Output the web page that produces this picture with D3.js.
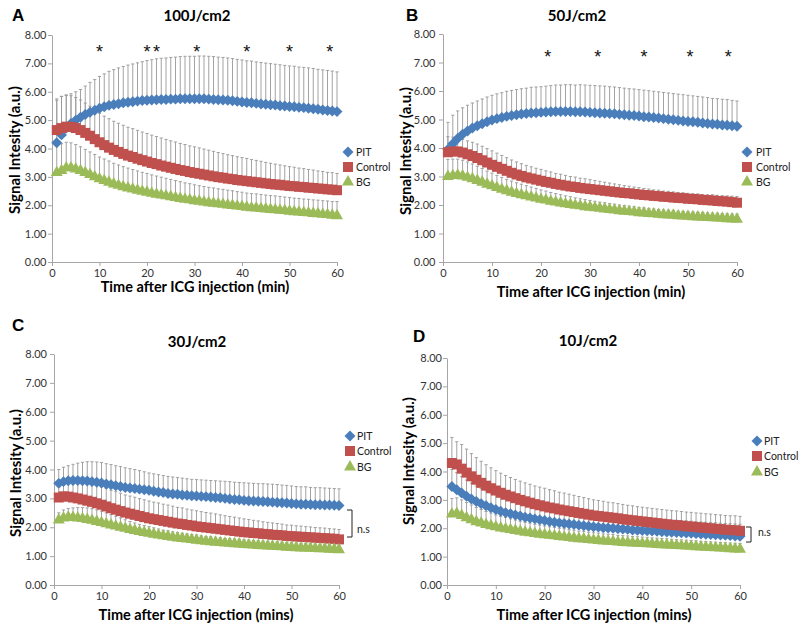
<!DOCTYPE html>
<html><head><meta charset="utf-8">
<script src="https://cdn.jsdelivr.net/npm/d3@7"></script>
<style>
body{margin:0;background:#fff;}
svg{display:block;}
</style></head><body>
<svg id="chart" width="800" height="630"></svg>
<script>
// ---------- DATA ----------
const minutes = [1,2,3,4,5,6,7,8,9,10,11,12,13,14,15,16,17,18,19,20,21,22,23,24,25,26,27,28,29,30,
  31,32,33,34,35,36,37,38,39,40,41,42,43,44,45,46,47,48,49,50,51,52,53,54,55,56,57,58,59,60];
const xTicks = [0,10,20,30,40,50,60];
const yTicks = [0,1,2,3,4,5,6,7,8];
const seriesNames = ["PIT","Control","BG"];
const panelLetters = ["A","B","C","D"];
const panelTitles = ["100J/cm2","50J/cm2","30J/cm2","10J/cm2"];
const xTitles = ["Time after ICG injection (min)","Time after ICG injection (min)",
  "Time after ICG injection (mins)","Time after ICG injection (mins)"];
const yTitle = "Signal Intesity (a.u.)";

// Panel A (100J/cm2)
const aPIT = [4.20,4.48,4.72,4.88,5.00,5.10,5.20,5.28,5.35,5.42,
  5.47,5.52,5.55,5.58,5.61,5.63,5.65,5.67,5.69,5.70,
  5.71,5.72,5.73,5.73,5.74,5.74,5.75,5.75,5.75,5.75,
  5.75,5.75,5.74,5.73,5.72,5.71,5.70,5.68,5.66,5.64,
  5.62,5.61,5.59,5.57,5.56,5.54,5.53,5.51,5.50,5.48,
  5.47,5.45,5.44,5.42,5.40,5.38,5.36,5.34,5.32,5.30];
const aPITsd = [1.50,1.35,1.15,1.05,1.00,0.98,1.00,1.05,1.08,1.12,
  1.16,1.20,1.23,1.26,1.28,1.31,1.33,1.35,1.37,1.40,
  1.42,1.44,1.45,1.46,1.47,1.48,1.49,1.50,1.50,1.50,
  1.51,1.51,1.51,1.51,1.50,1.50,1.49,1.49,1.48,1.48,
  1.47,1.47,1.46,1.46,1.45,1.45,1.44,1.44,1.43,1.43,
  1.43,1.42,1.42,1.42,1.42,1.41,1.41,1.41,1.41,1.40];
const aControl = [4.65,4.72,4.77,4.76,4.72,4.65,4.55,4.45,4.33,4.22,
  4.12,4.03,3.95,3.88,3.81,3.75,3.70,3.64,3.59,3.54,
  3.49,3.45,3.40,3.36,3.32,3.28,3.24,3.21,3.17,3.14,
  3.11,3.08,3.05,3.02,2.99,2.97,2.94,2.92,2.89,2.87,
  2.85,2.83,2.81,2.79,2.77,2.75,2.73,2.72,2.70,2.68,
  2.67,2.65,2.64,2.62,2.61,2.59,2.58,2.56,2.55,2.53];
const aControlSd = [1.10,1.12,1.12,1.10,1.08,1.06,1.05,1.04,1.03,1.02,
  1.02,1.02,1.01,1.01,1.01,1.00,1.00,1.00,0.99,0.99,
  0.98,0.97,0.97,0.96,0.95,0.95,0.94,0.93,0.92,0.92,
  0.91,0.90,0.89,0.88,0.87,0.85,0.84,0.83,0.82,0.81,
  0.80,0.78,0.77,0.76,0.74,0.73,0.72,0.70,0.69,0.68,
  0.67,0.66,0.65,0.64,0.63,0.62,0.61,0.60,0.60,0.59];
const aBG = [3.15,3.22,3.32,3.32,3.28,3.22,3.15,3.08,3.00,2.93,
  2.87,2.81,2.75,2.70,2.65,2.61,2.57,2.53,2.49,2.46,
  2.42,2.39,2.36,2.33,2.30,2.27,2.24,2.21,2.19,2.16,
  2.14,2.11,2.09,2.07,2.05,2.03,2.01,1.99,1.97,1.95,
  1.93,1.91,1.90,1.88,1.87,1.85,1.84,1.82,1.81,1.79,
  1.77,1.76,1.74,1.73,1.71,1.70,1.68,1.67,1.65,1.63];
const aBGsd = [0.95,0.95,0.90,0.88,0.86,0.84,0.82,0.80,0.79,0.77,
  0.76,0.75,0.73,0.72,0.71,0.70,0.69,0.68,0.67,0.66,
  0.65,0.64,0.63,0.62,0.61,0.60,0.59,0.58,0.57,0.56,
  0.55,0.55,0.54,0.54,0.53,0.53,0.52,0.52,0.51,0.51,
  0.50,0.50,0.50,0.50,0.49,0.49,0.49,0.49,0.48,0.48,
  0.48,0.48,0.48,0.48,0.48,0.48,0.48,0.48,0.48,0.50];
const aStars = [10,20,22,30.5,41,50,58.5];

// Panel B (50J/cm2)
const bPIT = [3.95,4.15,4.33,4.48,4.60,4.70,4.78,4.85,4.92,4.98,
  5.03,5.07,5.11,5.14,5.17,5.19,5.21,5.23,5.24,5.25,
  5.26,5.27,5.28,5.28,5.28,5.28,5.27,5.27,5.26,5.25,
  5.24,5.23,5.22,5.21,5.20,5.18,5.17,5.15,5.14,5.12,
  5.10,5.09,5.07,5.05,5.03,5.01,4.99,4.97,4.95,4.93,
  4.92,4.90,4.88,4.86,4.84,4.83,4.81,4.80,4.78,4.76];
const bPITsd = [0.95,1.00,0.97,0.93,0.90,0.88,0.87,0.87,0.87,0.87,
  0.87,0.87,0.88,0.88,0.88,0.89,0.89,0.90,0.90,0.90,
  0.91,0.92,0.93,0.93,0.94,0.94,0.94,0.95,0.95,0.95,
  0.95,0.95,0.95,0.94,0.94,0.94,0.93,0.93,0.93,0.93,
  0.93,0.92,0.92,0.92,0.92,0.92,0.92,0.92,0.92,0.92,
  0.91,0.91,0.91,0.91,0.90,0.90,0.90,0.90,0.89,0.89];
const bControl = [3.85,3.88,3.88,3.84,3.78,3.72,3.65,3.57,3.49,3.41,
  3.34,3.27,3.20,3.13,3.07,3.02,2.97,2.93,2.89,2.85,
  2.81,2.78,2.74,2.71,2.68,2.65,2.63,2.60,2.58,2.56,
  2.54,2.52,2.50,2.48,2.46,2.44,2.42,2.41,2.39,2.37,
  2.35,2.34,2.32,2.31,2.29,2.28,2.26,2.25,2.24,2.22,
  2.21,2.20,2.18,2.17,2.16,2.14,2.13,2.12,2.10,2.08];
const bControlSd = [0.55,0.50,0.45,0.46,0.47,0.48,0.49,0.49,0.49,0.49,
  0.48,0.47,0.46,0.45,0.44,0.43,0.42,0.41,0.40,0.40,
  0.39,0.38,0.37,0.37,0.36,0.35,0.35,0.34,0.34,0.33,
  0.32,0.31,0.30,0.29,0.28,0.27,0.26,0.25,0.24,0.24,
  0.23,0.22,0.21,0.21,0.20,0.20,0.20,0.19,0.19,0.19,
  0.19,0.19,0.19,0.19,0.20,0.20,0.20,0.20,0.21,0.22];
const bBG = [3.00,3.03,3.05,3.02,2.97,2.92,2.86,2.80,2.73,2.67,
  2.61,2.55,2.50,2.45,2.40,2.36,2.32,2.28,2.24,2.20,
  2.17,2.13,2.10,2.07,2.04,2.02,1.99,1.97,1.94,1.92,
  1.90,1.88,1.86,1.84,1.82,1.80,1.78,1.77,1.75,1.73,
  1.72,1.70,1.69,1.67,1.66,1.65,1.64,1.62,1.61,1.60,
  1.59,1.58,1.57,1.56,1.55,1.54,1.53,1.52,1.51,1.50];
const bBGsd = [0.60,0.58,0.56,0.55,0.54,0.52,0.50,0.48,0.46,0.45,
  0.43,0.42,0.40,0.39,0.38,0.37,0.36,0.35,0.34,0.33,
  0.32,0.31,0.30,0.29,0.28,0.27,0.26,0.25,0.25,0.24,
  0.23,0.22,0.22,0.21,0.21,0.20,0.20,0.19,0.19,0.18,
  0.18,0.18,0.17,0.17,0.17,0.16,0.16,0.16,0.16,0.16,
  0.16,0.16,0.16,0.16,0.16,0.17,0.17,0.17,0.17,0.18];
const bStars = [21.4,31.6,41,50.4,58.2];

// Panel C (30J/cm2)
const cPIT = [3.52,3.58,3.61,3.62,3.62,3.61,3.60,3.58,3.56,3.53,
  3.50,3.47,3.44,3.41,3.38,3.36,3.34,3.32,3.30,3.28,
  3.25,3.22,3.20,3.17,3.15,3.14,3.12,3.11,3.09,3.08,
  3.07,3.06,3.05,3.03,3.02,3.00,2.98,2.96,2.95,2.93,
  2.92,2.91,2.90,2.89,2.88,2.87,2.86,2.85,2.84,2.82,
  2.81,2.80,2.80,2.79,2.78,2.78,2.77,2.77,2.76,2.75];
const cPITsd = [0.48,0.50,0.52,0.56,0.60,0.64,0.67,0.69,0.70,0.71,
  0.70,0.70,0.69,0.69,0.68,0.67,0.66,0.64,0.62,0.60,
  0.60,0.60,0.59,0.59,0.59,0.58,0.58,0.57,0.57,0.57,
  0.57,0.57,0.57,0.58,0.58,0.59,0.60,0.60,0.60,0.61,
  0.61,0.61,0.61,0.62,0.62,0.62,0.62,0.61,0.61,0.61,
  0.60,0.60,0.60,0.59,0.59,0.59,0.59,0.58,0.58,0.58];
const cControl = [3.03,3.07,3.06,3.03,3.00,2.96,2.92,2.88,2.83,2.78,
  2.72,2.66,2.61,2.56,2.51,2.47,2.43,2.39,2.35,2.31,
  2.28,2.25,2.22,2.19,2.16,2.13,2.11,2.08,2.06,2.03,
  2.01,1.99,1.97,1.95,1.93,1.91,1.89,1.87,1.85,1.83,
  1.82,1.80,1.79,1.77,1.76,1.74,1.73,1.72,1.70,1.69,
  1.68,1.67,1.66,1.65,1.64,1.63,1.62,1.61,1.60,1.58];
const cControlSd = [0.50,0.52,0.54,0.56,0.58,0.60,0.61,0.62,0.62,0.62,
  0.62,0.62,0.62,0.62,0.61,0.61,0.61,0.60,0.60,0.60,
  0.59,0.59,0.58,0.58,0.57,0.56,0.56,0.55,0.54,0.54,
  0.53,0.52,0.52,0.51,0.50,0.49,0.48,0.48,0.47,0.46,
  0.45,0.44,0.43,0.42,0.41,0.41,0.40,0.39,0.38,0.38,
  0.37,0.37,0.36,0.36,0.35,0.35,0.35,0.34,0.34,0.34];
const cBG = [2.25,2.32,2.35,2.34,2.32,2.30,2.27,2.24,2.20,2.16,
  2.12,2.08,2.04,2.00,1.96,1.92,1.89,1.85,1.82,1.79,
  1.76,1.73,1.70,1.68,1.65,1.63,1.61,1.59,1.57,1.55,
  1.53,1.51,1.50,1.48,1.47,1.45,1.44,1.43,1.42,1.40,
  1.39,1.38,1.37,1.36,1.35,1.34,1.33,1.32,1.31,1.30,
  1.29,1.28,1.28,1.27,1.26,1.25,1.25,1.24,1.23,1.22];
const cBGsd = [0.25,0.28,0.30,0.33,0.36,0.38,0.40,0.40,0.40,0.40,
  0.38,0.36,0.34,0.32,0.30,0.28,0.26,0.25,0.24,0.23,
  0.22,0.21,0.20,0.20,0.19,0.19,0.18,0.18,0.18,0.18,
  0.17,0.17,0.17,0.17,0.17,0.16,0.16,0.16,0.16,0.16,
  0.16,0.16,0.16,0.16,0.16,0.16,0.16,0.16,0.16,0.16,
  0.16,0.16,0.16,0.16,0.16,0.16,0.16,0.16,0.16,0.16];

// Panel D (10J/cm2)
const dPIT = [3.47,3.36,3.24,3.13,3.03,2.94,2.86,2.79,2.72,2.66,
  2.60,2.55,2.51,2.47,2.43,2.39,2.36,2.33,2.30,2.27,
  2.24,2.21,2.19,2.17,2.15,2.13,2.11,2.09,2.07,2.05,
  2.04,2.02,2.01,2.00,1.98,1.97,1.96,1.94,1.93,1.92,
  1.91,1.90,1.89,1.88,1.87,1.86,1.85,1.84,1.83,1.82,
  1.81,1.80,1.79,1.78,1.77,1.76,1.75,1.74,1.73,1.72];
const dPITsd = [0.60,0.60,0.58,0.57,0.56,0.55,0.54,0.53,0.52,0.52,
  0.51,0.51,0.50,0.50,0.50,0.49,0.49,0.49,0.48,0.48,
  0.48,0.48,0.47,0.47,0.47,0.46,0.46,0.46,0.46,0.45,
  0.45,0.45,0.45,0.45,0.44,0.44,0.44,0.44,0.44,0.44,
  0.43,0.43,0.43,0.43,0.43,0.43,0.43,0.43,0.43,0.43,
  0.42,0.42,0.42,0.42,0.42,0.42,0.42,0.42,0.42,0.42];
const dControl = [4.30,4.25,4.10,3.96,3.83,3.71,3.60,3.50,3.41,3.33,
  3.25,3.18,3.12,3.06,3.00,2.95,2.90,2.85,2.81,2.77,
  2.73,2.70,2.66,2.63,2.60,2.57,2.54,2.51,2.48,2.45,
  2.43,2.41,2.39,2.37,2.35,2.32,2.30,2.28,2.26,2.24,
  2.22,2.20,2.18,2.16,2.14,2.12,2.11,2.09,2.07,2.06,
  2.04,2.03,2.01,2.00,1.98,1.97,1.95,1.94,1.93,1.91];
const dControlSd = [0.90,0.80,0.85,0.83,0.80,0.78,0.76,0.74,0.72,0.70,
  0.69,0.68,0.67,0.66,0.66,0.65,0.65,0.64,0.64,0.64,
  0.63,0.62,0.61,0.61,0.60,0.59,0.58,0.57,0.56,0.55,
  0.55,0.54,0.53,0.53,0.52,0.52,0.51,0.51,0.50,0.50,
  0.50,0.50,0.50,0.50,0.50,0.50,0.50,0.50,0.50,0.50,
  0.50,0.50,0.50,0.50,0.50,0.50,0.50,0.50,0.51,0.51];
const dBG = [2.50,2.52,2.45,2.37,2.30,2.23,2.18,2.13,2.09,2.05,
  2.01,1.98,1.95,1.92,1.89,1.86,1.84,1.81,1.79,1.77,
  1.75,1.73,1.71,1.69,1.67,1.65,1.63,1.62,1.60,1.58,
  1.57,1.55,1.54,1.53,1.51,1.50,1.49,1.48,1.47,1.46,
  1.45,1.44,1.43,1.42,1.41,1.40,1.39,1.38,1.37,1.36,
  1.35,1.34,1.33,1.32,1.31,1.30,1.29,1.28,1.27,1.26];
const dBGsd = [0.55,0.55,0.55,0.54,0.52,0.50,0.48,0.46,0.44,0.42,
  0.41,0.40,0.38,0.37,0.36,0.35,0.34,0.33,0.32,0.31,
  0.30,0.30,0.29,0.29,0.28,0.28,0.27,0.27,0.26,0.26,
  0.26,0.25,0.25,0.25,0.24,0.24,0.24,0.23,0.23,0.23,
  0.23,0.22,0.22,0.22,0.22,0.21,0.21,0.21,0.21,0.21,
  0.21,0.20,0.20,0.20,0.20,0.20,0.20,0.20,0.20,0.20];

const nsLabel = "n.s";
const starLabel = "*";

// ---------- LAYOUT / STYLE ----------
const colors = ["#4a7ebb","#c0504d","#9bbb59"];
const panels = [
  {means:[aPIT,aControl,aBG], sds:[aPITsd,aControlSd,aBGsd], stars:aStars, starV:7.55,
   x0:52, x1:337, yb:262, yt:35, pad:1.5, letter:[12,21], title:[197,21], xTitle:[195,292], yTitle:[20,150],
   leg:{mx:348, tx:356, ys:[152,167,182]}, ns:null},
  {means:[bPIT,bControl,bBG], sds:[bPITsd,bControlSd,bBGsd], stars:bStars, starV:7.35,
   x0:443, x1:737, yb:262, yt:34, pad:3.5, letter:[406,21], title:[577,21], xTitle:[591,297], yTitle:[411,151],
   leg:{mx:747, tx:756, ys:[152,167,182]}, ns:null},
  {means:[cPIT,cControl,cBG], sds:[cPITsd,cControlSd,cBGsd], stars:[], starV:0,
   x0:54, x1:339, yb:585, yt:354, pad:3, letter:[12,331], title:[197,347], xTitle:[196,620], yTitle:[21,473],
   leg:{mx:350, tx:357, ys:[436,451,467]}, ns:{x:352, y1:510, y2:537, tx:357, ty:533}},
  {means:[dPIT,dControl,dBG], sds:[dPITsd,dControlSd,dBGsd], stars:[], starV:0,
   x0:447, x1:740, yb:585, yt:358, pad:1, letter:[413,342], title:[588,346], xTitle:[594,620], yTitle:[414,461],
   leg:{mx:757, tx:764, ys:[441,456,472]}, ns:{x:751, y1:527, y2:542, tx:758, ty:536}}
];

const symPIT = d3.symbol(d3.symbolSquare, 60)();
const symCtl = d3.symbol(d3.symbolSquare, 100)();
const symBG = d3.symbol(d3.symbolTriangle, 62)();
const symbols = [symPIT, symCtl, symBG];
const rot = [45, 0, 0];

const svg = d3.select("#chart");
const axisColor = "#a6a6a6";
const fontMain = "Lato, 'Open Sans', sans-serif";

panels.forEach((p, i) => {
  const g = svg.append("g");
  const x = d3.scaleLinear().domain([0, 60]).range([p.x0, p.x1]);
  const y = d3.scaleLinear().domain([0, 8]).range([p.yb, p.yt]);

  // axes
  const ya = g.append("g").attr("transform", `translate(${p.x0},0)`)
    .call(d3.axisLeft(y).tickValues(yTicks).tickFormat(d3.format(".2f")).tickSize(4).tickSizeOuter(0).tickPadding(p.pad));
  const xa = g.append("g").attr("transform", `translate(0,${p.yb})`)
    .call(d3.axisBottom(x).tickValues(xTicks).tickSize(4).tickSizeOuter(0).tickPadding(3));
  [ya, xa].forEach(a => {
    a.select(".domain").attr("stroke", axisColor);
    a.selectAll(".tick line").attr("stroke", axisColor);
    a.selectAll(".tick text").attr("fill", "#333").style("font-family", fontMain).style("font-size", "11px");
  });

  // error bars (upward only)
  p.means.forEach((m, s) => {
    const sd = p.sds[s];
    const eb = g.append("g").attr("stroke", "#999").attr("stroke-width", 0.9).attr("fill", "none");
    minutes.forEach((t, k) => {
      const xx = x(t), y1 = y(m[k]), y2 = y(m[k] + sd[k]);
      eb.append("line").attr("x1", xx).attr("x2", xx).attr("y1", y1).attr("y2", y2);
      eb.append("line").attr("x1", xx - 1.6).attr("x2", xx + 1.6).attr("y1", y2).attr("y2", y2);
    });
  });

  // markers
  p.means.forEach((m, s) => {
    g.append("g").selectAll("path").data(minutes).join("path")
      .attr("d", symbols[s])
      .attr("fill", colors[s])
      .attr("transform", (t, k) => `translate(${x(t)},${y(m[k])}) rotate(${rot[s]})`);
  });

  // stars
  g.selectAll("text.star").data(p.stars).join("text").attr("class", "star")
    .attr("x", d => x(d)).attr("y", y(p.starV)).attr("dy", "0.57em")
    .attr("text-anchor", "middle").style("font-family", "'Liberation Sans', Arial, sans-serif")
    .style("font-size", "18px").attr("fill", "#111").text(starLabel);

  // titles
  g.append("text").attr("x", p.letter[0]).attr("y", p.letter[1])
    .style("font-family", "'Liberation Sans', Arial, sans-serif").style("font-weight", "bold").style("font-size", "17px")
    .text(panelLetters[i]);
  g.append("text").attr("x", p.title[0]).attr("y", p.title[1]).attr("text-anchor", "middle")
    .style("font-family", fontMain).style("font-weight", "bold").style("font-size", "15px")
    .text(panelTitles[i]);
  g.append("text").attr("x", p.xTitle[0]).attr("y", p.xTitle[1]).attr("text-anchor", "middle")
    .style("font-family", fontMain).style("font-weight", "bold").style("font-size", "14.5px")
    .text(xTitles[i]);
  g.append("text").attr("transform", `translate(${p.yTitle[0]},${p.yTitle[1]}) rotate(-90)`).attr("text-anchor", "middle")
    .style("font-family", fontMain).style("font-weight", "bold").style("font-size", "15px")
    .text(yTitle);

  // legend
  seriesNames.forEach((name, s) => {
    g.append("path").attr("d", symbols[s]).attr("fill", colors[s])
      .attr("transform", `translate(${p.leg.mx},${p.leg.ys[s]}) rotate(${rot[s]})`);
    g.append("text").attr("x", p.leg.tx).attr("y", p.leg.ys[s]).attr("dy", "0.36em")
      .style("font-family", fontMain).style("font-size", "10.5px").attr("fill", "#222").text(name);
  });

  // n.s bracket
  if (p.ns) {
    const n = p.ns;
    g.append("path").attr("d", `M${n.x - 5},${n.y1}H${n.x}V${n.y2}H${n.x - 5}`)
      .attr("fill", "none").attr("stroke", "#222").attr("stroke-width", 1);
    g.append("text").attr("x", n.tx).attr("y", n.ty)
      .style("font-family", fontMain).style("font-size", "10.5px").attr("fill", "#222").text(nsLabel);
  }
});
</script>
</body></html>
